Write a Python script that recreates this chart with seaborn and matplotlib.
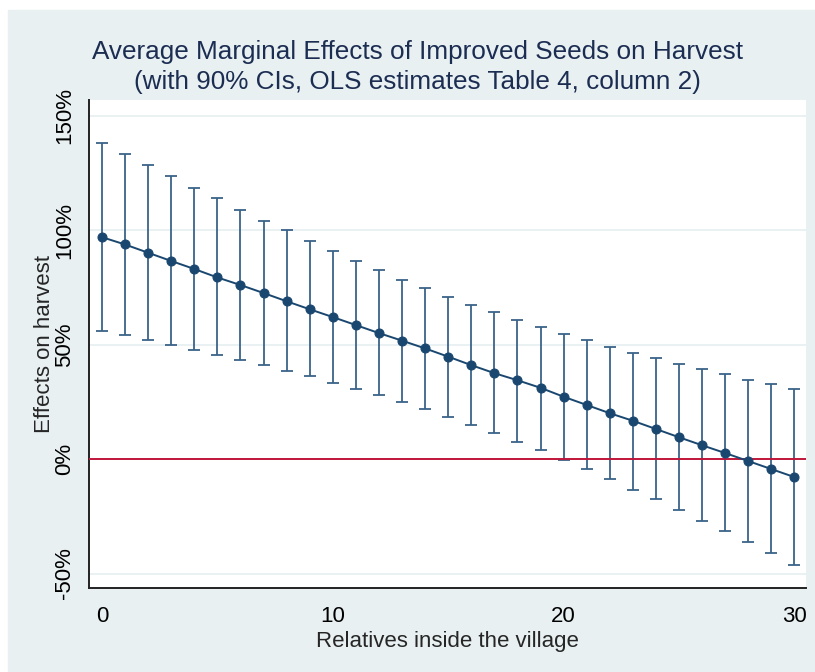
import numpy as np
import pandas as pd
import matplotlib
matplotlib.use('Agg')
import matplotlib.pyplot as plt
import seaborn as sns
from matplotlib.patches import Rectangle
from matplotlib.ticker import FuncFormatter

# values (in %)
relatives = list(range(31))
effect = [96.9, 93.7, 90.1, 86.5, 83.0, 79.3, 76.0, 72.5, 68.9, 65.4, 62.0,
          58.5, 55.0, 51.7, 48.3, 44.7, 41.0, 37.5, 34.4, 31.1, 27.2,
          23.6, 20.0, 16.7, 13.1, 9.5, 6.0, 2.6, -0.9, -4.4, -7.9]
upper = [138.1, 133.2, 128.4, 123.4, 118.3, 113.8, 108.9, 104.1, 99.9, 95.2, 90.8,
         86.6, 82.7, 78.4, 74.7, 70.7, 67.2, 64.1, 60.7, 57.6, 54.8,
         52.0, 49.0, 46.4, 44.0, 41.5, 39.3, 37.2, 34.6, 32.9, 30.7]
lower = [55.9, 54.0, 52.0, 49.7, 47.6, 45.3, 43.2, 40.9, 38.6, 36.1, 33.3,
         30.7, 27.9, 24.8, 21.8, 18.2, 15.0, 11.5, 7.6, 4.1, -0.3,
         -4.2, -8.6, -13.4, -17.6, -22.3, -26.9, -31.6, -36.4, -41.2, -46.3]
yticks = [-50, 0, 50, 100, 150]
xticks = [0, 10, 20, 30]

df = pd.DataFrame({'rel': relatives, 'eff': effect, 'lo': lower, 'hi': upper})

sns.set_style('white')
plt.rcParams['font.family'] = ['Liberation Sans', 'DejaVu Sans']

navy = '#1a476f'
bg = '#e8f0f2'

fig = plt.figure(figsize=(8.15, 6.72), dpi=100, facecolor='white')
fig.patches.append(Rectangle((8 / 815, 0), 1 - 8 / 815, 1 - 10 / 672,
                             transform=fig.transFigure, color=bg, zorder=-10))
ax = fig.add_axes([89 / 815, 1 - 587.7 / 672, (806 - 89) / 815, (587.7 - 100) / 672])
ax.set_facecolor('white')

# confidence intervals
ax.errorbar(df['rel'], df['eff'],
            yerr=[df['eff'] - df['lo'], df['hi'] - df['eff']],
            fmt='none', ecolor='#3a6389', elinewidth=1.3, capsize=4.5, capthick=1.3, zorder=2)
ax.axhline(0, color='#c0163b', lw=1.4, zorder=3)
sns.lineplot(data=df, x='rel', y='eff', ax=ax, color=navy, lw=1.4, marker='o',
             markersize=6.5, markeredgecolor=navy, zorder=4)

ax.set_xlim(-0.56, 30.5)
ax.set_ylim(-56.2, 156.8)
ax.set_xticks(xticks)
ax.set_yticks(yticks)
ax.yaxis.set_major_formatter(FuncFormatter(lambda v, p: f'{v:.0f}%'))
ax.yaxis.grid(True, color=bg, lw=1.3)
ax.set_axisbelow(True)

for s in ['top', 'right']:
    ax.spines[s].set_visible(False)
for s in ['left', 'bottom']:
    ax.spines[s].set_color('#222222')
    ax.spines[s].set_linewidth(1.4)

ax.tick_params(axis='both', direction='out', length=7, width=1.3, color='#222222',
               labelsize=16, labelcolor='black')
ax.tick_params(axis='x', pad=6)
ax.tick_params(axis='y', pad=3, labelrotation=90)
for lbl in ax.get_yticklabels():
    lbl.set_va('center')

ax.set_xlabel('Relatives inside the village', fontsize=16, labelpad=3)
ax.set_ylabel('Effects on harvest', fontsize=16, labelpad=-1)

fig.text(417 / 815, 1 - 40 / 672,
         'Average Marginal Effects of Improved Seeds on Harvest\n'
         '(with 90% CIs, OLS estimates Table 4, column 2)',
         ha='center', va='top', fontsize=18.8, color='#1c2d52', linespacing=1.3)

fig.savefig('out.png', dpi=100, facecolor=fig.get_facecolor())
